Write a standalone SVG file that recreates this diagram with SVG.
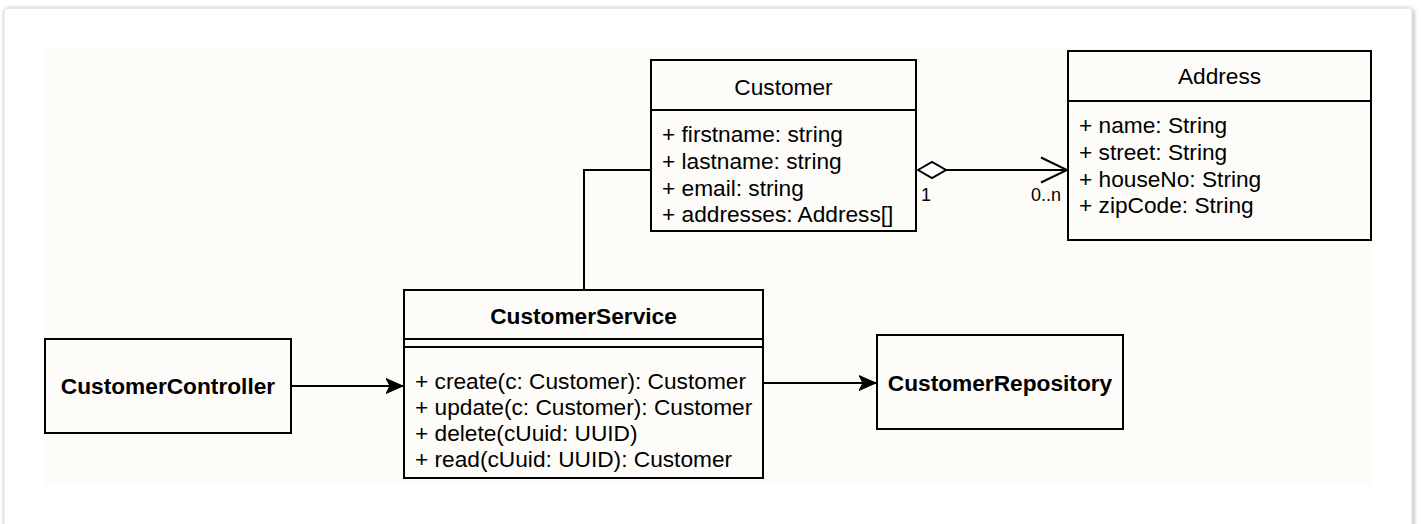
<svg xmlns="http://www.w3.org/2000/svg" width="1421" height="524" viewBox="0 0 1421 524">
  <defs>
    <filter id="shadow" x="-2%" y="-5%" width="104%" height="110%">
      <feGaussianBlur in="SourceAlpha" stdDeviation="2"/>
      <feOffset dx="1" dy="1"/>
      <feComponentTransfer><feFuncA type="linear" slope="0.35"/></feComponentTransfer>
      <feMerge><feMergeNode/><feMergeNode in="SourceGraphic"/></feMerge>
    </filter>
    <marker id="classic" markerUnits="userSpaceOnUse" markerWidth="20" markerHeight="18" refX="17" refY="8" orient="auto">
      <path d="M17,8 L0,0.5 L4,8 L0,15.5 Z" fill="#000" stroke="#000" stroke-width="1" stroke-linejoin="miter"/>
    </marker>
    <marker id="open" markerUnits="userSpaceOnUse" markerWidth="30" markerHeight="30" refX="27" refY="15" orient="auto">
      <path d="M1,2.5 L27,15 L1,27.5" fill="none" stroke="#000" stroke-width="2"/>
    </marker>
    <marker id="diamond" markerUnits="userSpaceOnUse" markerWidth="32" markerHeight="20" refX="1" refY="10" orient="auto">
      <path d="M1,10 L15,2 L29,10 L15,18 Z" fill="#fff" stroke="#000" stroke-width="2"/>
    </marker>
  </defs>
  <style>
    .box { fill: #fdfcf9; stroke: #000; stroke-width: 2; }
    .div { stroke: #000; stroke-width: 2; fill: none; }
    .t { font-family: "Liberation Sans", Arial, sans-serif; font-size: 22.7px; fill: #000; }
    .b { font-weight: bold; }
    .c { text-anchor: middle; }
    .lbl { font-family: "Liberation Sans", Arial, sans-serif; font-size: 18px; fill: #000; }
    .edge { stroke: #000; stroke-width: 2; fill: none; }
  </style>

  <rect x="4" y="8" width="1408" height="530" rx="4" fill="#ffffff" stroke="#e4e4e4" stroke-width="1.5" filter="url(#shadow)"/>
  <rect x="43" y="48" width="1329" height="438" fill="#fdfcf8"/>

  <g id="connectors">
    <path class="edge" d="M650,170 L584,170 L584,290"/>
    <path class="edge" d="M918,170 L1067,170" marker-start="url(#diamond)" marker-end="url(#open)"/>
    <text class="lbl" x="921" y="201">1</text>
    <text class="lbl" x="1031" y="201">0..n</text>
    <path class="edge" d="M291,386 L403,386" marker-end="url(#classic)"/>
    <path class="edge" d="M763,383 L876,383" marker-end="url(#classic)"/>
  </g>

  <g id="customer">
    <rect class="box" x="651" y="60" width="265" height="171"/>
    <line class="div" x1="651" y1="110" x2="916" y2="110"/>
    <text class="t c" x="783.5" y="95">Customer</text>
    <text class="t" x="662" y="142">+ firstname: string</text>
    <text class="t" x="662" y="169">+ lastname: string</text>
    <text class="t" x="662" y="196">+ email: string</text>
    <text class="t" x="662" y="222">+ addresses: Address[]</text>
  </g>

  <g id="address">
    <rect class="box" x="1068" y="51" width="303" height="189"/>
    <line class="div" x1="1068" y1="101" x2="1371" y2="101"/>
    <text class="t c" x="1219.5" y="84">Address</text>
    <text class="t" x="1079" y="133">+ name: String</text>
    <text class="t" x="1079" y="160">+ street: String</text>
    <text class="t" x="1079" y="187">+ houseNo: String</text>
    <text class="t" x="1079" y="213">+ zipCode: String</text>
  </g>

  <g id="customerService">
    <rect class="box" x="404" y="290" width="359" height="188"/>
    <line class="div" x1="404" y1="339" x2="763" y2="339"/>
    <line class="div" x1="404" y1="347" x2="763" y2="347"/>
    <text class="t b c" x="583.5" y="324">CustomerService</text>
    <text class="t" x="415" y="389">+ create(c: Customer): Customer</text>
    <text class="t" x="415" y="415">+ update(c: Customer): Customer</text>
    <text class="t" x="415" y="441">+ delete(cUuid: UUID)</text>
    <text class="t" x="415" y="467">+ read(cUuid: UUID): Customer</text>
  </g>

  <g id="customerController">
    <rect class="box" x="45" y="339" width="246" height="94"/>
    <text class="t b c" x="168" y="394">CustomerController</text>
  </g>

  <g id="customerRepository">
    <rect class="box" x="877" y="335" width="246" height="94"/>
    <text class="t b c" x="1000" y="391">CustomerRepository</text>
  </g>
</svg>
